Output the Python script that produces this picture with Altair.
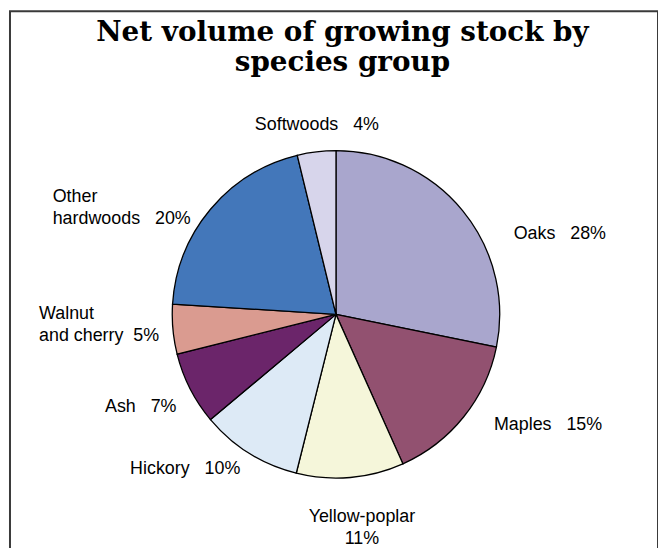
import altair as alt
import pandas as pd

NB = "\u00a0"  # non-breaking space keeps the wide gaps of the reference labels

# ---- data ----
CATEGORIES = ["Oaks", "Maples", "Yellow-poplar", "Hickory", "Ash",
              "Walnut and cherry", "Other hardwoods", "Softwoods"]
SHARES = [28.2, 15.1, 10.6, 10.0, 7.2, 4.9, 20.2, 3.8]
LABELS = ["Oaks" + NB * 3 + "28%", "Maples" + NB * 3 + "15%",
          "Yellow-poplar\n11%", "Hickory" + NB * 3 + "10%",
          "Ash" + NB * 3 + "7%", "Walnut\nand cherry" + NB * 2 + "5%",
          "Other\nhardwoods" + NB * 3 + "20%", "Softwoods" + NB * 3 + "4%"]
COLORS = ["#A9A6CD", "#925170", "#F5F6DA", "#DDEAF6", "#6B256A",
          "#DA9B90", "#4377BA", "#D7D5EB"]
TITLE = "Net volume of growing stock by\nspecies group"

# ---- layout (not data) ----
W, H = 653, 580
CX, CY = 328.5, 305.5        # pie centre inside the view
R = 165
LABEL_R = 195
TITLE_X, TITLE_Y = 335, 22
# per-label alignment and nudge from the slice's mid-angle anchor
LABEL_STYLE = {
    "Oaks": ("left", 28, 42),
    "Maples": ("left", 7, -10),
    "Yellow-poplar": ("center", 9, 10),
    "Hickory": ("right", 7, -9),
    "Ash": ("right", 13, 5),
    "Walnut and cherry": ("left", -105, -18),
    "Other hardwoods": ("left", -136, 7),
    "Softwoods": ("center", 4, 3),
}

total = sum(SHARES)
df = pd.DataFrame({"category": CATEGORIES, "share": SHARES,
                   "label": LABELS, "idx": range(len(CATEGORIES))})
df["mid"] = df["share"].cumsum() - df["share"] / 2

theta_scale = alt.Scale(domain=[0, total])
color_scale = alt.Scale(domain=CATEGORIES, range=COLORS)

pie = alt.Chart(df).mark_arc(stroke="black", strokeWidth=1.3).encode(
    theta=alt.Theta("share:Q", stack=True, scale=theta_scale),
    color=alt.Color("category:N", scale=color_scale, legend=None),
    order=alt.Order("idx:Q"),
    x=alt.value(CX), y=alt.value(CY),
    radius=alt.value(R),
)

layers = [pie]
for cat in CATEGORIES:
    align, dx, dy = LABEL_STYLE[cat]
    sub = df[df["category"] == cat]
    layers.append(
        alt.Chart(sub).mark_text(
            font="Liberation Sans", fontSize=18, color="black",
            align=align, baseline="middle", dx=dx, dy=dy,
            lineBreak="\n", lineHeight=22.5,
        ).encode(
            theta=alt.Theta("mid:Q", scale=theta_scale),
            radius=alt.value(LABEL_R),
            x=alt.value(CX), y=alt.value(CY),
            text="label:N",
        )
    )

title = alt.Chart(pd.DataFrame({"t": [TITLE]})).mark_text(
    font="DejaVu Serif", fontWeight="bold", fontSize=28, color="black",
    align="center", baseline="middle", lineBreak="\n", lineHeight=30,
).encode(x=alt.value(TITLE_X), y=alt.value(TITLE_Y), text="t:N")
layers.append(title)

chart = alt.layer(*layers).properties(
    width=W, height=H,
    autosize=alt.AutoSizeParams(type="none"),
    padding={"left": 2, "top": 1, "right": 0, "bottom": 0},
).configure_view(stroke="#3a3a3a", strokeWidth=2)

chart.save("out.html", embed_options={"renderer": "svg", "actions": False})
